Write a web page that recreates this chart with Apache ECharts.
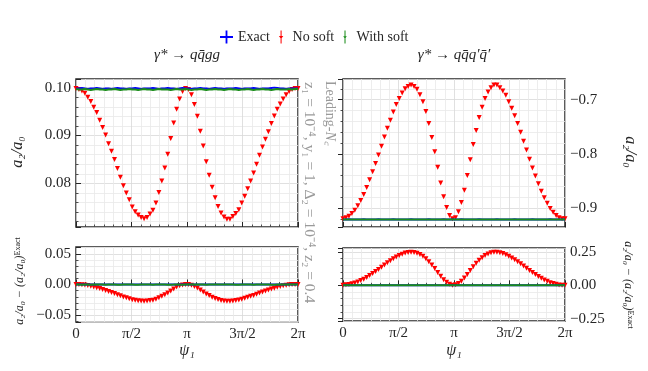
<!DOCTYPE html>
<html>
<head>
<meta charset="utf-8">
<script src="https://cdn.jsdelivr.net/npm/echarts@6/dist/echarts.min.js"></script>
<style>
  html, body { margin: 0; padding: 0; background: #fff; }
  #chart { width: 648px; height: 371px; }
</style>
</head>
<body>
<div id="chart"></div>
<script>
// ψ1 sample points in degrees (0 … 2π)
const psiDeg = [
  0, 4.8, 9.6, 14.4, 19.2, 24, 28.8, 33.6, 38.4, 43.2,
  48, 52.8, 57.6, 62.4, 67.2, 72, 76.8, 81.6, 86.4, 91.2,
  96, 100.8, 105.6, 110.4, 115.2, 120, 124.8, 129.6, 134.4, 139.2,
  144, 148.8, 153.6, 158.4, 163.2, 168, 172.8, 177.6, 182.4, 187.2,
  192, 196.8, 201.6, 206.4, 211.2, 216, 220.8, 225.6, 230.4, 235.2,
  240, 244.8, 249.6, 254.4, 259.2, 264, 268.8, 273.6, 278.4, 283.2,
  288, 292.8, 297.6, 302.4, 307.2, 312, 316.8, 321.6, 326.4, 331.2,
  336, 340.8, 345.6, 350.4, 355.2, 360
]
const xTickLabels = {0: '0', 90: 'π/2', 180: 'π', 270: '3π/2', 360: '2π'}

// γ* → q q̄ g g : a2/a0
const exactQQGG = [
  0.0998, 0.0998, 0.0999, 0.0998, 0.0997, 0.0998, 0.0998, 0.0999, 0.0998, 0.0997,
  0.0998, 0.0998, 0.0997, 0.0998, 0.0999, 0.0998, 0.0998, 0.0997, 0.0998, 0.0998,
  0.0999, 0.0998, 0.0997, 0.0998, 0.0998, 0.0998, 0.0999, 0.0998, 0.0997, 0.0998,
  0.0998, 0.0999, 0.0998, 0.0998, 0.0997, 0.0998, 0.0999, 0.0998, 0.0998, 0.0997,
  0.0998, 0.0998, 0.0999, 0.0998, 0.0998, 0.0997, 0.0998, 0.0999, 0.0998, 0.0998,
  0.0997, 0.0998, 0.0998, 0.0998, 0.0999, 0.0998, 0.0997, 0.0998, 0.0998, 0.0998,
  0.0999, 0.0998, 0.0997, 0.0998, 0.0998, 0.0998, 0.0999, 0.1000, 0.0999, 0.0998,
  0.0998, 0.0997, 0.0998, 0.0998, 0.0998, 0.0998
]
const noSoftQQGG = [
  0.0998, 0.0996, 0.0993, 0.0988, 0.0980, 0.0971, 0.0959, 0.0948, 0.0932, 0.0917,
  0.0901, 0.0883, 0.0867, 0.0850, 0.0831, 0.0813, 0.0795, 0.0780, 0.0766, 0.0751,
  0.0741, 0.0734, 0.0729, 0.0726, 0.0729, 0.0736, 0.0744, 0.0759, 0.0781, 0.0805,
  0.0832, 0.0861, 0.0894, 0.0926, 0.0955, 0.0976, 0.0992, 0.0998, 0.0996, 0.0985,
  0.0965, 0.0940, 0.0909, 0.0878, 0.0845, 0.0817, 0.0792, 0.0770, 0.0752, 0.0738,
  0.0730, 0.0725, 0.0725, 0.0731, 0.0737, 0.0745, 0.0759, 0.0773, 0.0789, 0.0805,
  0.0822, 0.0840, 0.0859, 0.0876, 0.0892, 0.0908, 0.0925, 0.0941, 0.0955, 0.0966,
  0.0976, 0.0985, 0.0992, 0.0996, 0.0998, 0.0998
]
const withSoftQQGG = [
  0.0997, 0.0996, 0.0996, 0.0997, 0.0996, 0.0995, 0.0996, 0.0997, 0.0996, 0.0996,
  0.0995, 0.0996, 0.0996, 0.0997, 0.0996, 0.0995, 0.0996, 0.0996, 0.0997, 0.0996,
  0.0996, 0.0995, 0.0996, 0.0997, 0.0996, 0.0996, 0.0995, 0.0996, 0.0997, 0.0996,
  0.0996, 0.0996, 0.0995, 0.0996, 0.0997, 0.0996, 0.0996, 0.0997, 0.0996, 0.0995,
  0.0996, 0.0996, 0.0997, 0.0996, 0.0995, 0.0996, 0.0996, 0.0997, 0.0996, 0.0996,
  0.0995, 0.0996, 0.0997, 0.0996, 0.0996, 0.0995, 0.0996, 0.0996, 0.0997, 0.0996,
  0.0995, 0.0996, 0.0996, 0.0997, 0.0996, 0.0996, 0.0995, 0.0996, 0.0997, 0.0996,
  0.0996, 0.0996, 0.0997, 0.0996, 0.0997, 0.0997
]

// γ* → q q̄ q' q̄' : a2/a0
const exactQQQQ = [
  -0.9210, -0.9212, -0.9209, -0.9211, -0.9210, -0.9213, -0.9210, -0.9209, -0.9211, -0.9210,
  -0.9212, -0.9210, -0.9209, -0.9211, -0.9210, -0.9212, -0.9211, -0.9209, -0.9210, -0.9211,
  -0.9210, -0.9212, -0.9210, -0.9209, -0.9211, -0.9210, -0.9212, -0.9210, -0.9211, -0.9209,
  -0.9210, -0.9211, -0.9212, -0.9210, -0.9209, -0.9211, -0.9210, -0.9210, -0.9212, -0.9210,
  -0.9209, -0.9211, -0.9210, -0.9212, -0.9210, -0.9211, -0.9209, -0.9210, -0.9211, -0.9210,
  -0.9212, -0.9210, -0.9209, -0.9211, -0.9210, -0.9212, -0.9210, -0.9211, -0.9209, -0.9210,
  -0.9211, -0.9210, -0.9212, -0.9210, -0.9209, -0.9211, -0.9210, -0.9212, -0.9210, -0.9211,
  -0.9209, -0.9210, -0.9211, -0.9210, -0.9212, -0.9210
]
const noSoftQQQQ = [
  -0.920, -0.918, -0.915, -0.910, -0.904, -0.896, -0.886, -0.875, -0.862, -0.848,
  -0.833, -0.818, -0.802, -0.786, -0.769, -0.753, -0.738, -0.723, -0.709, -0.698,
  -0.688, -0.680, -0.676, -0.673, -0.676, -0.681, -0.691, -0.704, -0.722, -0.744,
  -0.770, -0.796, -0.825, -0.854, -0.879, -0.899, -0.914, -0.920, -0.918, -0.907,
  -0.890, -0.867, -0.840, -0.811, -0.783, -0.757, -0.733, -0.714, -0.698, -0.686,
  -0.678, -0.673, -0.673, -0.678, -0.684, -0.692, -0.704, -0.716, -0.730, -0.744,
  -0.760, -0.777, -0.793, -0.810, -0.826, -0.841, -0.855, -0.869, -0.881, -0.891,
  -0.901, -0.908, -0.914, -0.918, -0.920, -0.920
]
const withSoftQQQQ = [
  -0.9212, -0.9210, -0.9213, -0.9211, -0.9212, -0.9210, -0.9211, -0.9213, -0.9212, -0.9210,
  -0.9211, -0.9212, -0.9213, -0.9211, -0.9210, -0.9212, -0.9211, -0.9213, -0.9212, -0.9210,
  -0.9211, -0.9212, -0.9211, -0.9213, -0.9210, -0.9212, -0.9211, -0.9212, -0.9213, -0.9211,
  -0.9210, -0.9212, -0.9211, -0.9213, -0.9212, -0.9210, -0.9211, -0.9212, -0.9213, -0.9211,
  -0.9210, -0.9212, -0.9211, -0.9213, -0.9212, -0.9210, -0.9211, -0.9212, -0.9211, -0.9213,
  -0.9210, -0.9212, -0.9211, -0.9212, -0.9213, -0.9211, -0.9210, -0.9212, -0.9211, -0.9213,
  -0.9212, -0.9210, -0.9211, -0.9212, -0.9213, -0.9211, -0.9210, -0.9212, -0.9211, -0.9213,
  -0.9212, -0.9210, -0.9211, -0.9212, -0.9211, -0.9212
]

const chart = echarts.init(document.getElementById('chart'), null, {renderer: 'canvas'})

const serif = 'Liberation Serif'
const ink = '#262626'
const grey = '#9a9a9a'
const blue = '#0000ff'
const red = '#ff0000'
const green = '#1a8c1a'

// 差值: a2/a0 - (a2/a0)_Exact
const minus = (a, b) => a.map((v, i) => v - b[i])
const pts = arr => psiDeg.map((x, i) => [x, arr[i]])

const onStep = (v, step) => Math.abs(v / step - Math.round(v / step)) < 1e-6
const numLabel = (step, digits) => v => onStep(v, step) ? v.toFixed(digits).replace('-', '−') : ''

const grids = [
  {left: 76, top: 79, width: 222, height: 148},
  {left: 343, top: 79, width: 222, height: 148},
  {left: 76, top: 247, width: 222, height: 75},
  {left: 343, top: 248, width: 222, height: 73}
]

const xAxes = grids.map((g, i) => ({
  gridIndex: i,
  type: 'value',
  min: 0,
  max: 360,
  interval: 90,
  axisLine: {show: false},
  axisTick: {inside: true, length: 5, lineStyle: {color: ink, width: 1}},
  minorTick: {show: true, splitNumber: 6, length: 2.5, lineStyle: {color: ink, width: 0.8}},
  splitLine: {show: true, lineStyle: {color: '#d8d8d8', width: 0.8}},
  minorSplitLine: {show: true, lineStyle: {color: '#e8e8e8', width: 0.8}},
  axisLabel: {
    show: i >= 2,
    formatter: v => xTickLabels[Math.round(v)] || '',
    fontFamily: serif,
    fontSize: 15,
    color: ink,
    margin: 5
  }
}))

const yAxisBase = (i, min, max, step, minorSplit, digits, pos) => ({
  gridIndex: i,
  type: 'value',
  position: pos,
  min: min,
  max: max,
  minInterval: step,
  maxInterval: step,
  splitNumber: 3,
  axisLine: {show: false},
  axisTick: {inside: true, length: 5, lineStyle: {color: ink, width: 1}},
  minorTick: {show: true, splitNumber: minorSplit, length: 2.5, lineStyle: {color: ink, width: 0.8}},
  splitLine: {show: true, lineStyle: {color: '#d8d8d8', width: 0.8}},
  minorSplitLine: {show: true, lineStyle: {color: '#e8e8e8', width: 0.8}},
  axisLabel: {
    formatter: numLabel(step, digits),
    fontFamily: serif,
    fontSize: 15,
    color: ink,
    margin: 5
  }
})

const yAxes = [
  yAxisBase(0, 0.0709, 0.1018, 0.01, 5, 2, 'left'),
  yAxisBase(1, -0.935, -0.662, 0.1, 5, 1, 'right'),
  yAxisBase(2, -0.061, 0.061, 0.05, 5, 2, 'left'),
  yAxisBase(3, -0.267, 0.279, 0.25, 5, 2, 'right')
]

const panelSeries = (i, exact, noSoft, withSoft) => [
  {
    name: 'Exact', type: 'line', xAxisIndex: i, yAxisIndex: i,
    data: pts(exact), symbol: 'none',
    itemStyle: {color: blue}, lineStyle: {color: blue, width: 2}
  },
  {
    name: 'No soft', type: 'scatter', xAxisIndex: i, yAxisIndex: i,
    data: pts(noSoft), symbol: 'triangle', symbolRotate: 180, symbolSize: 5,
    itemStyle: {color: red, opacity: 1}
  },
  {
    name: 'With soft', type: 'line', xAxisIndex: i, yAxisIndex: i,
    data: pts(withSoft), symbol: 'none',
    itemStyle: {color: green}, lineStyle: {color: green, width: 2}
  }
]

const series = [
  ...panelSeries(0, exactQQGG, noSoftQQGG, withSoftQQGG),
  ...panelSeries(1, exactQQQQ, noSoftQQQQ, withSoftQQQQ),
  ...panelSeries(2, minus(exactQQGG, exactQQGG), minus(noSoftQQGG, exactQQGG), minus(withSoftQQGG, exactQQGG)),
  ...panelSeries(3, minus(exactQQQQ, exactQQQQ), minus(noSoftQQQQ, exactQQQQ), minus(withSoftQQQQ, exactQQQQ))
]

const txt = (x, y, text, opts) => ({
  type: 'text',
  x: x,
  y: y,
  rotation: opts.rotation || 0,
  style: Object.assign({
    text: text,
    fontFamily: serif,
    fontSize: 15,
    fill: ink,
    align: 'center',
    verticalAlign: 'middle'
  }, opts.style || {})
})

const diffRich = {
  a: {fontFamily: serif, fontStyle: 'italic', fontSize: 12, fill: ink, verticalAlign: 'bottom'},
  s: {fontFamily: serif, fontSize: 8, fill: ink, verticalAlign: 'top'}
}
const leadRich = {
  r: {fontFamily: serif, fontSize: 14, fill: grey},
  i: {fontFamily: serif, fontSize: 14, fontStyle: 'italic', fill: grey}
}

const graphics = [
  // titles
  txt(187, 55, 'γ* → qq̄gg', {style: {fontStyle: 'italic', fontSize: 15}}),
  txt(454, 55, 'γ* → qq̄q′q̄′', {style: {fontStyle: 'italic', fontSize: 15}}),
  // y-axis names
  txt(18, 152, 'a₂/a₀', {rotation: Math.PI / 2, style: {fontStyle: 'italic', fontSize: 16}}),
  txt(630, 152, 'a₂/a₀', {rotation: -Math.PI / 2, style: {fontStyle: 'italic', fontSize: 16}}),
  txt(20, 281, '{a|a₂/a₀ − (a₂/a₀)}{s|Exact}', {rotation: Math.PI / 2, style: {rich: diffRich}}),
  txt(628, 285, '{a|a₂/a₀ − (a₂/a₀)}{s|Exact}', {rotation: -Math.PI / 2, style: {rich: diffRich}}),
  // x-axis names
  txt(187, 351, 'ψ₁', {style: {fontStyle: 'italic', fontSize: 16}}),
  txt(454, 351, 'ψ₁', {style: {fontStyle: 'italic', fontSize: 16}}),
  // side notes
  txt(330, 81, '{r|Leading-}{i|N꜀}', {rotation: -Math.PI / 2, style: {align: 'left', rich: leadRich}}),
  txt(309, 82, 'z₁ = 10⁻⁴, y₁ = 1, Δ₂ = 10⁻⁴, z₂ = 0.4', {rotation: -Math.PI / 2, style: {align: 'left', fill: grey, fontSize: 15.5}})
]

const option = {
  animation: false,
  backgroundColor: '#ffffff',
  legend: {
    left: 215,
    top: 25,
    itemWidth: 13,
    itemHeight: 13,
    itemGap: 9,
    textStyle: {fontFamily: serif, fontSize: 14, color: ink},
    data: [
      {name: 'Exact', icon: 'path://M4.3,0H5.7V4.3H10V5.7H5.7V10H4.3V5.7H0V4.3H4.3Z'},
      {name: 'No soft', icon: 'path://M4.6,0H5.4V10H4.6Z M3.3,4.3H6.7L5,6.6Z'},
      {name: 'With soft', icon: 'path://M4.6,0H5.4V10H4.6Z M3.6,4.5H6.4L5,6.4Z'}
    ]
  },
  grid: grids.map(g => Object.assign({show: true, borderColor: ink, borderWidth: 1.5, backgroundColor: 'transparent'}, g)),
  xAxis: xAxes,
  yAxis: yAxes,
  series: series,
  graphic: graphics
}

chart.setOption(option)
</script>
</body>
</html>
